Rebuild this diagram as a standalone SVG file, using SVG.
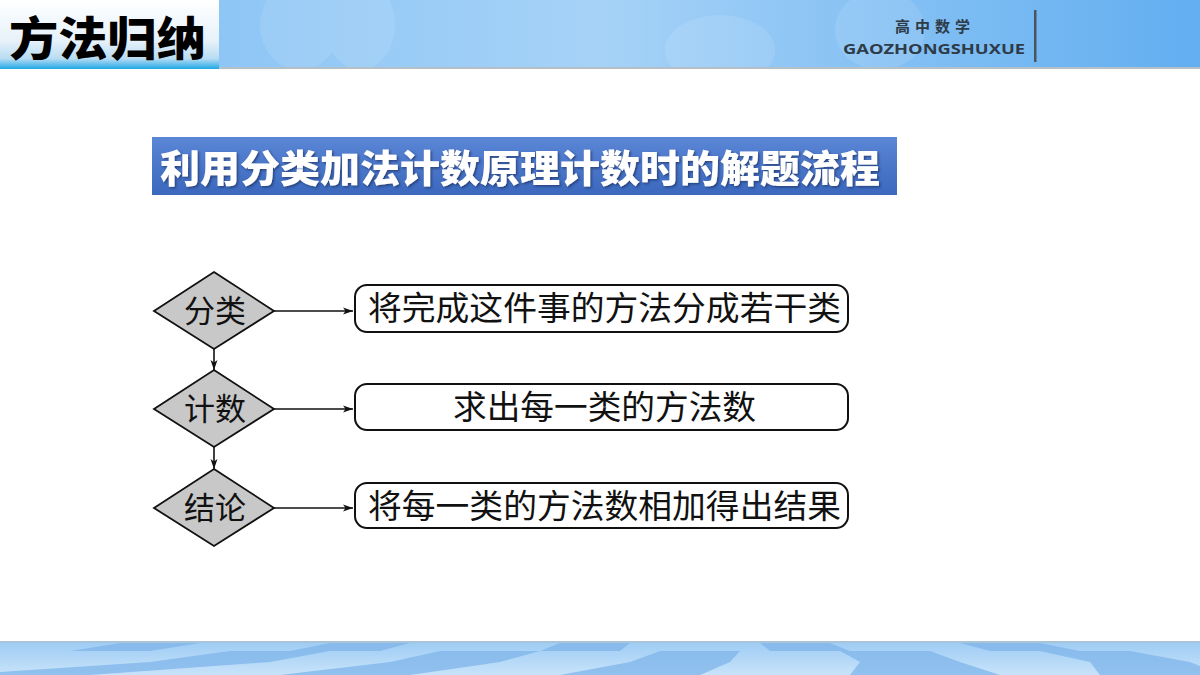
<svg xmlns="http://www.w3.org/2000/svg" width="1200" height="675" viewBox="0 0 1200 675">
<defs>
<linearGradient id="hdr" x1="0" y1="0" x2="1" y2="0">
<stop offset="0" stop-color="#7fbff5"/>
<stop offset="0.5" stop-color="#a6d2f7"/>
<stop offset="0.8" stop-color="#7cbcf3"/>
<stop offset="1" stop-color="#62aef0"/>
</linearGradient>
<linearGradient id="tbox" x1="0" y1="0" x2="0" y2="1">
<stop offset="0" stop-color="#ffffff"/>
<stop offset="0.6" stop-color="#e6f1fa"/>
<stop offset="0.85" stop-color="#b7dcf3"/>
<stop offset="1" stop-color="#1fa8e6"/>
</linearGradient>
<linearGradient id="bar" x1="0" y1="0" x2="0" y2="1">
<stop offset="0" stop-color="#5b86d6"/>
<stop offset="1" stop-color="#3b68bd"/>
</linearGradient>
<linearGradient id="floor" x1="0" y1="0" x2="0" y2="1">
<stop offset="0" stop-color="#9ccbf4"/>
<stop offset="1" stop-color="#c8e3fa"/>
</linearGradient>
<marker id="ah" viewBox="0 0 10 10" refX="10" refY="5" markerWidth="10" markerHeight="10" markerUnits="userSpaceOnUse" orient="auto">
<path d="M0,1.5 L10,5 L0,8.5 L2.5,5 Z" fill="#111"/>
</marker>
<filter id="sh" x="-5%" y="-20%" width="110%" height="140%">
<feDropShadow dx="1.5" dy="1.5" stdDeviation="1" flood-color="#1a2f60" flood-opacity="0.7"/>
</filter>
</defs>
<style>
.dia{fill:#c8c8c8;stroke:#111;stroke-width:1.8}
.box{fill:#fff;stroke:#111;stroke-width:2}
.lbl{font-family:"Liberation Serif","Noto Sans CJK SC",serif;font-size:31px;fill:#111}
.btx{font-family:"Liberation Serif","Noto Sans CJK SC",serif;font-size:33px;fill:#111}
.con{stroke:#111;stroke-width:1.6;fill:none;marker-end:url(#ah)}
</style>
<rect width="1200" height="675" fill="#fff"/>
<!-- header -->
<g id="header">
<rect x="0" y="0" width="1200" height="68" fill="url(#hdr)"/>
<g fill="#ffffff" opacity="0.1">
<ellipse cx="300" cy="25" rx="40" ry="45"/>
<ellipse cx="360" cy="25" rx="35" ry="45"/>
<ellipse cx="720" cy="50" rx="55" ry="35"/>
<ellipse cx="880" cy="30" rx="45" ry="40"/>
</g>
<rect x="0" y="67" width="1200" height="2" fill="#b5bfc8"/>
<rect x="0" y="0" width="219" height="69" fill="url(#tbox)"/>
<text x="9" y="55" font-family="'Noto Sans CJK SC',sans-serif" font-weight="900" font-size="46" fill="#000" textLength="197" lengthAdjust="spacingAndGlyphs">方法归纳</text>
<text x="935" y="32" text-anchor="middle" font-family="'Noto Sans CJK SC',sans-serif" font-weight="700" font-size="15" fill="#2e3b48" letter-spacing="5">高中数学</text>
<text x="934" y="54" text-anchor="middle" font-family="'Open Sans','Noto Sans',sans-serif" font-weight="700" font-size="15" fill="#2e3b48" textLength="182" lengthAdjust="spacingAndGlyphs">GAOZHONGSHUXUE</text>
<rect x="1034" y="10" width="2.5" height="52" fill="#4a5560"/>
</g>
<!-- title bar -->
<g id="title">
<rect x="152" y="137" width="745" height="58" fill="url(#bar)"/>
<text x="160" y="182" font-family="'Noto Sans CJK SC',sans-serif" font-weight="900" font-size="38" fill="#fff" filter="url(#sh)" textLength="720" lengthAdjust="spacingAndGlyphs">利用分类加法计数原理计数时的解题流程</text>
</g>
<!-- connectors -->
<g id="connectors">
<line class="con" x1="274" y1="311" x2="353" y2="311"/>
<line class="con" x1="274" y1="409" x2="353" y2="409"/>
<line class="con" x1="274" y1="508" x2="353" y2="508"/>
<line class="con" x1="214" y1="348" x2="214" y2="370"/>
<line class="con" x1="214" y1="447" x2="214" y2="469"/>
</g>
<g id="n-fenlei">
<polygon class="dia" points="214,272 274,311 214,349 154,311"/>
<text class="lbl" x="215" y="322" text-anchor="middle">分类</text>
</g>
<g id="n-jishu">
<polygon class="dia" points="214,370 274,409 214,447 154,409"/>
<text class="lbl" x="215" y="420" text-anchor="middle">计数</text>
</g>
<g id="n-jielun">
<polygon class="dia" points="214,469 274,508 214,546 154,508"/>
<text class="lbl" x="215" y="519" text-anchor="middle">结论</text>
</g>
<g id="b1">
<rect class="box" x="355" y="285" width="493" height="47" rx="12"/>
<text class="btx" x="368" y="320" textLength="473" lengthAdjust="spacingAndGlyphs">将完成这件事的方法分成若干类</text>
</g>
<g id="b2">
<rect class="box" x="355" y="384" width="493" height="46" rx="12"/>
<text class="btx" x="453" y="419" textLength="303" lengthAdjust="spacingAndGlyphs">求出每一类的方法数</text>
</g>
<g id="b3">
<rect class="box" x="355" y="483" width="493" height="45" rx="12"/>
<text class="btx" x="368" y="518" textLength="473" lengthAdjust="spacingAndGlyphs">将每一类的方法数相加得出结果</text>
</g>
<!-- footer floor -->
<g id="footer">
<rect x="0" y="641" width="1200" height="34" fill="url(#floor)"/>
<rect x="0" y="641" width="1200" height="2" fill="#a9c3d8"/>
<g fill="#7fb5ea" opacity="0.75">
<polygon points="230,651 330,651 270,662 150,662"/>
<polygon points="440,651 540,651 500,662 390,662"/>
<polygon points="660,651 740,651 730,662 630,662"/>
<polygon points="840,651 930,651 960,662 860,662"/>
<polygon points="1040,651 1130,651 1190,662 1090,662"/>
<polygon points="150,662 270,662 90,675 0,675 0,672"/>
<polygon points="390,662 500,662 410,675 280,675"/>
<polygon points="630,662 730,662 700,675 560,675"/>
<polygon points="860,662 960,662 1000,675 850,675"/>
<polygon points="1090,662 1190,662 1200,666 1200,675 1100,675"/>
<polygon points="120,643 200,643 150,651 70,651"/>
<polygon points="330,643 410,643 380,651 290,651"/>
<polygon points="560,643 630,643 620,651 540,651"/>
<polygon points="760,643 830,643 850,651 770,651"/>
<polygon points="960,643 1040,643 1080,651 990,651"/>
</g>
</g>
</svg>
